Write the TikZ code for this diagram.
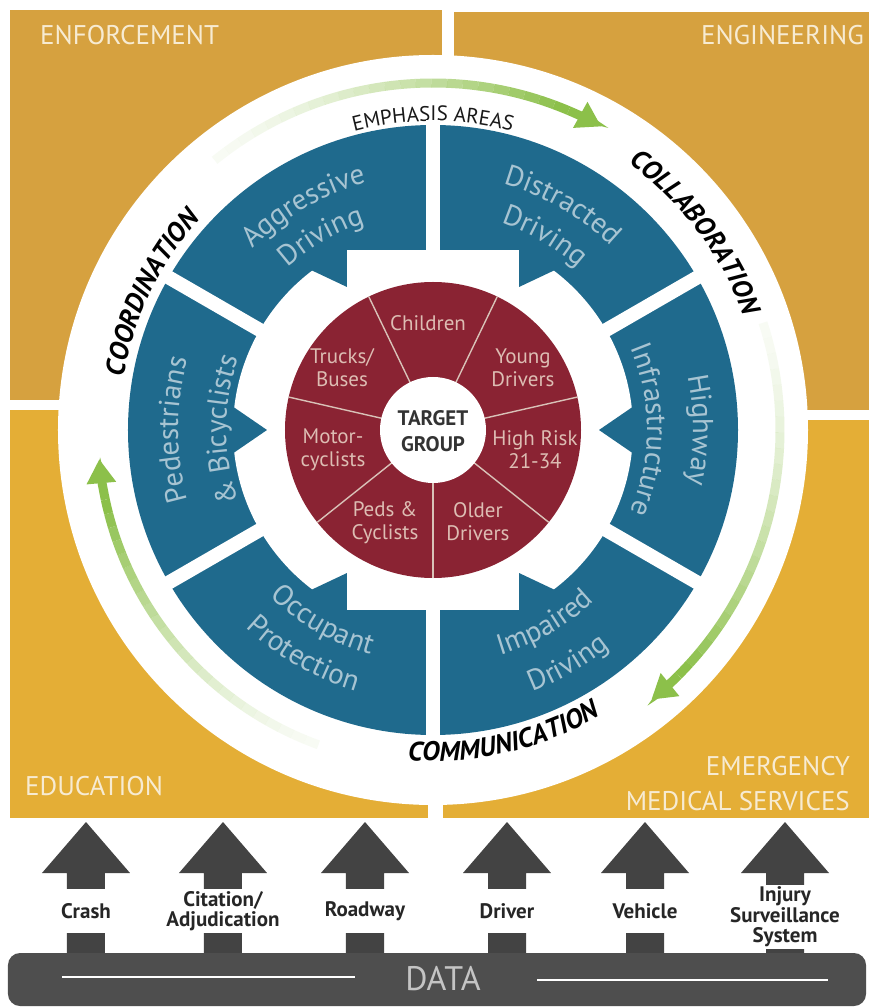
\documentclass[tikz,border=0pt]{standalone}
\usepackage{fontspec}
\setmainfont{PT Sans}
\usetikzlibrary{arrows.meta,decorations.text}

\definecolor{quadtop}{HTML}{D6A13F}
\definecolor{quadbot}{HTML}{E4AE36}
\definecolor{quadtxt}{HTML}{F7EBD2}
\definecolor{ringblue}{HTML}{1F6A8D}
\definecolor{bluetxt}{HTML}{A7C4D2}
\definecolor{ringred}{HTML}{8A2333}
\definecolor{redtxt}{HTML}{DDBDB3}
\definecolor{spokecol}{HTML}{D9C2B8}
\definecolor{arrowgreen}{HTML}{8CC04A}
\definecolor{arrowgray}{HTML}{434343}
\definecolor{databar}{HTML}{4E4E4E}
\definecolor{datatxt}{HTML}{C4C4C4}

% text set along an arc: radius, from, to, format, colour, text
\newcommand\arctext[6]{%
	\path [decorate, decoration={text along path, text align=center, text color=#5, text={|#4|#6}}]
		(#2:#1) arc [start angle=#2, end angle=#3, radius=#1];
}

% green arc that fades in, with a head: radius, from, to, tip
\newcommand\fadearc[4]{%
	\foreach \k in {0,...,23}{
		\pgfmathsetmacro\angA{#2+(#3-#2)*\k/24}
		\pgfmathsetmacro\angB{#2+(#3-#2)*(\k+1)/24}
		\pgfmathsetmacro\fadeop{0.06+0.94*(\k/23)^1.5}
		\draw [greenarc, draw opacity=\fadeop] (\angA:#1) arc [start angle=\angA, end angle=\angB, radius=#1];
	}
	\draw [greenarc, -{Triangle[length=24pt, width=28pt]}] (#3:#1) arc [start angle=#3, end angle=#4, radius=#1];
}

\begin{document}
\begin{tikzpicture}[x=1pt, y=1pt,
	quadlabel/.style={text=quadtxt, font=\fontsize{27}{29}\selectfont, inner sep=0pt},
	gapline/.style={draw=white, line width=14pt},
	spoke/.style={draw=spokecol, line width=1.4pt},
	grouplabel/.style={text=redtxt, font=\fontsize{21}{23}\selectfont, align=center, inner sep=0pt},
	targetlabel/.style={text=black!80, font=\bfseries\fontsize{21}{26}\selectfont, align=center, inner sep=0pt},
	datalabel/.style={text=black!85, font=\bfseries\fontsize{21}{20.5}\selectfont, align=center, fill=white, inner sep=2pt, minimum height=44pt},
	uparrow/.style={fill=arrowgray},
	greenarc/.style={draw=arrowgreen, line width=9pt}]

	\useasboundingbox (-433,-578) rectangle (436,430);
	\fill [white] (-433,-578) rectangle (436,430);

	% Quadrants
	\fill [quadtop] (-423,420) rectangle (9,30);
	\fill [quadtop] (21,418) rectangle (436,20);
	\fill [quadbot] (-423,20) rectangle (-5,-388);
	\fill [quadbot] (10,10) rectangle (436,-388);

	\node [quadlabel, anchor=base west] 	(enf) at (-393,385)  {ENFORCEMENT};
	\node [quadlabel, anchor=base east] 	(eng) at (431,385)   {ENGINEERING};
	\node [quadlabel, anchor=base west] 	(edu) at (-408,-365) {EDUCATION};
	\node [quadlabel, anchor=base east] 	(ems) at (417,-345)  {EMERGENCY};
	\node [quadlabel, anchor=base east] 	(med) at (417,-380)  {MEDICAL SERVICES};

	% White ring with arrows and words
	\fill [white] (0,0) circle [radius=375];

	\fadearc{347}{129}{67}{61}
	\fadearc{347}{18}{-45}{-51}
	\fadearc{335}{250}{192}{185}

	\arctext{314}{186}{122}{\bfseries\itshape\fontsize{27}{27}\selectfont}{black}{COORDINATION}
	\arctext{331}{70}{4}{\bfseries\itshape\fontsize{27}{27}\selectfont}{black}{COLLABORATION}
	\arctext{331}{-109}{-45}{\bfseries\itshape\fontsize{27}{27}\selectfont}{black}{COMMUNICATION}
	\arctext{309}{120}{60}{\fontsize{21}{21}\selectfont}{black!90}{EMPHASIS AREAS}

	% Emphasis areas {6 blue blocks}
	\fill [ringblue] (0,0) circle [radius=305];
	\fill [white] (0,0) circle [radius=200];
	\fill [ringblue] (-86,180) rectangle (86,205);
	\fill [ringblue] (-86,-180) rectangle (86,-205);
	\foreach \sx in {1,-1}
		\foreach \sy in {1,-1}
			\fill [ringblue] (\sx*86,\sy*183) -- (\sx*86,\sy*143) -- (\sx*122,\sy*160) -- (\sx*118,\sy*180) -- cycle;
	\foreach \s in {1,-1}
		\fill [ringblue] (\s*201,24) -- (\s*166,0) -- (\s*201,-24) -- (\s*210,0) -- cycle;
	\foreach \a in {30,90,...,330}
		\draw [gapline] (\a:165) -- (\a:310);

	\arctext{256}{165}{75}{\fontsize{29}{29}\selectfont}{bluetxt}{Aggressive}
	\arctext{218}{165}{75}{\fontsize{29}{29}\selectfont}{bluetxt}{Driving}
	\arctext{256}{105}{15}{\fontsize{29}{29}\selectfont}{bluetxt}{Distracted}
	\arctext{218}{105}{15}{\fontsize{29}{29}\selectfont}{bluetxt}{Driving}
	\arctext{260}{45}{-45}{\fontsize{29}{29}\selectfont}{bluetxt}{Highway}
	\arctext{214}{45}{-45}{\fontsize{29}{29}\selectfont}{bluetxt}{Infrastructure}
	\arctext{255}{225}{135}{\fontsize{29}{29}\selectfont}{bluetxt}{Pedestrians}
	\arctext{207}{225}{135}{\fontsize{29}{29}\selectfont}{bluetxt}{{\&} Bicyclists}
	\arctext{233}{195}{285}{\fontsize{29}{29}\selectfont}{bluetxt}{Occupant}
	\arctext{272}{195}{285}{\fontsize{29}{29}\selectfont}{bluetxt}{Protection}
	\arctext{235}{255}{345}{\fontsize{29}{29}\selectfont}{bluetxt}{Impaired}
	\arctext{280}{255}{345}{\fontsize{29}{29}\selectfont}{bluetxt}{Driving}

	% Target groups {7 red slices}
	\fill [ringred] (0,0) circle [radius=148];
	\foreach \k in {0,...,6}
		\draw [spoke] (270+\k*360/7:50) -- (270+\k*360/7:148);
	\fill [white] (0,0) circle [radius=53];

	\node [targetlabel] (target) 	at (0,-1) 		{TARGET\\GROUP};
	\node [grouplabel] 	(children) 	at (-5,107) 	{Children};
	\node [grouplabel] 	(young) 	at (90,62) 		{Young\\Drivers};
	\node [grouplabel] 	(highrisk) 	at (102,-20) 	{High Risk\\21-34};
	\node [grouplabel] 	(older) 	at (45,-92) 	{Older\\Drivers};
	\node [grouplabel] 	(peds) 		at (-48,-93) 	{Peds \&\\Cyclists};
	\node [grouplabel] 	(motor) 	at (-100,-20) 	{Motor-\\cyclists};
	\node [grouplabel] 	(trucks) 	at (-91,62) 	{Trucks/\\Buses};

	% Data sources {6 arrows up from the bar}
	\foreach \x in {-347,-210,-68,74,212,352}
		\fill [uparrow] (\x,-392) -- ++(44,-51) -- ++(-25,0) -- ++(0,-90) -- ++(-38,0) -- ++(0,90) -- ++(-25,0) -- cycle;

	\fill [databar, rounded corners=12pt] (-425,-523) rectangle (433,-576);
	\node [text=datatxt, font=\fontsize{34}{34}\selectfont] (data) at (10,-549) {DATA};
	\draw [white, line width=1.4pt] (-371,-547) -- (-78,-547);
	\draw [white, line width=1.4pt] (104,-550) -- (395,-550);

	\node [datalabel] (crash) 		at (-347,-481) 	{Crash};
	\node [datalabel] (citation) 	at (-210,-481) 	{Citation/\\Adjudication};
	\node [datalabel] (roadway) 	at (-68,-481) 	{Roadway};
	\node [datalabel] (driver) 		at (74,-481) 	{Driver};
	\node [datalabel] (vehicle) 	at (212,-481) 	{Vehicle};
	\node [datalabel] (injury) 		at (352,-487) 	{Injury\\Surveillance\\System};
\end{tikzpicture}
\end{document}
